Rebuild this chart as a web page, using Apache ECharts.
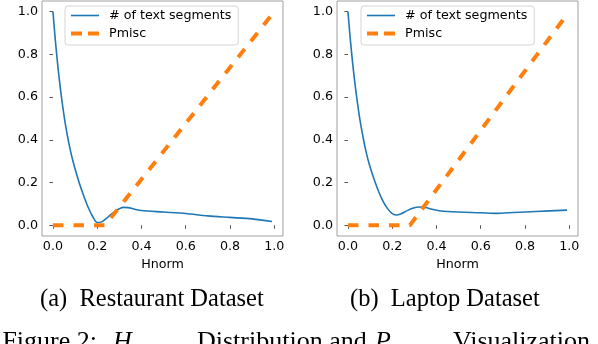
<!DOCTYPE html>
<html>
<head>
<meta charset="utf-8">
<script src="https://cdn.jsdelivr.net/npm/echarts@6/dist/echarts.min.js"></script>
<style>
html,body{margin:0;padding:0;background:#fff;}
#chart{width:598px;height:344px;}
</style>
</head>
<body>
<div id="chart"></div>
<script>
// ---- data ----
const tickValues = [0, 0.2, 0.4, 0.6, 0.8, 1.0];
const seriesNames = ['# of text segments', 'Pmisc'];

const restaurantX = [0, 0.01, 0.02, 0.03, 0.04, 0.05, 0.06, 0.07, 0.08, 0.09, 0.10, 0.12, 0.14, 0.16, 0.18, 0.20, 0.22, 0.25, 0.28, 0.30, 0.32, 0.34, 0.37, 0.40, 0.50, 0.60, 0.70, 0.80, 0.90, 0.99];
const restaurantSegments = [1.0, 0.875, 0.766, 0.671, 0.587, 0.514, 0.450, 0.394, 0.345, 0.302, 0.264, 0.195, 0.135, 0.082, 0.040, 0.013, 0.016, 0.040, 0.065, 0.078, 0.084, 0.083, 0.075, 0.069, 0.062, 0.055, 0.044, 0.037, 0.030, 0.018];
const restaurantPmiscX = [0, 0.235, 0.99];
const restaurantPmiscY = [0, 0, 0.987];

const laptopX = [0, 0.01, 0.02, 0.03, 0.04, 0.05, 0.06, 0.07, 0.08, 0.09, 0.10, 0.12, 0.14, 0.16, 0.18, 0.20, 0.22, 0.24, 0.27, 0.30, 0.32, 0.35, 0.38, 0.42, 0.50, 0.60, 0.67, 0.75, 0.85, 0.99];
const laptopSegments = [1.0, 0.878, 0.771, 0.677, 0.595, 0.522, 0.458, 0.403, 0.353, 0.310, 0.273, 0.210, 0.155, 0.110, 0.077, 0.055, 0.048, 0.054, 0.070, 0.082, 0.086, 0.083, 0.075, 0.067, 0.062, 0.059, 0.056, 0.060, 0.065, 0.071];
const laptopPmiscX = [0, 0.28, 0.99];
const laptopPmiscY = [0, 0, 0.987];

const subCaptions = ['(a)  Restaurant Dataset', '(b)  Laptop Dataset'];
const axisName = 'Hnorm';

// ---- build ----
const zip = (xs, ys) => xs.map((x, i) => [x, ys[i]]);
const BLUE = '#1f77b4', ORANGE = '#ff7f0e';
const FONT = 'DejaVu Sans';
const FS = 12.7;

function xAxisFor(i) {
  return {
    type: 'value', gridIndex: i, min: -0.0495, max: 1.0395,
    name: axisName, nameLocation: 'middle', nameGap: 16,
    nameTextStyle: {fontFamily: FONT, fontSize: FS, color: '#000'},
    axisLine: {show: false},
    splitLine: {show: false},
    axisTick: {show: true, length: 3.5, lineStyle: {color: '#555'}, customValues: tickValues},
    axisLabel: {fontFamily: FONT, fontSize: FS, color: '#000', margin: 4,
      customValues: tickValues, formatter: v => v.toFixed(1)}
  };
}
function yAxisFor(i) {
  return {
    type: 'value', gridIndex: i, min: -0.05, max: 1.05,
    axisLine: {show: false},
    splitLine: {show: false},
    axisTick: {show: true, length: 3.5, lineStyle: {color: '#555'}, customValues: tickValues},
    axisLabel: {fontFamily: FONT, fontSize: FS, color: '#000', margin: 4,
      customValues: tickValues, formatter: v => v.toFixed(1)}
  };
}
function segSeries(i, data) {
  return {name: seriesNames[0], type: 'line', xAxisIndex: i, yAxisIndex: i, data,
    symbol: 'none', smooth: 0.3,
    lineStyle: {color: BLUE, width: 1.6}, itemStyle: {color: BLUE}, z: 3};
}
function pmSeries(i, data) {
  return {name: seriesNames[1], type: 'line', xAxisIndex: i, yAxisIndex: i, data,
    symbol: 'none',
    lineStyle: {color: ORANGE, width: 4, type: [10.5, 10], cap: 'butt'}, itemStyle: {color: ORANGE}, z: 4};
}
function legendAt(left) {
  return {
    orient: 'vertical', left, top: 6,
    data: [
      {name: seriesNames[0], lineStyle: {color: BLUE, width: 1.6, type: 'solid'}},
      {name: seriesNames[1], lineStyle: {color: ORANGE, width: 4, type: [11, 6], cap: 'butt'}}
    ],
    itemWidth: 28, itemHeight: 14, itemGap: 5,
    padding: [3, 7, 5, 4],
    backgroundColor: 'rgba(255,255,255,0.8)', borderColor: '#d5d5d5', borderWidth: 1, borderRadius: 3,
    itemStyle: {color: 'rgba(0,0,0,0)', borderWidth: 0, opacity: 0},
    textStyle: {fontFamily: FONT, fontSize: FS, color: '#000', padding: [0, 0, 0, 5]},
    selectedMode: false
  };
}

const option = {
  animation: false,
  backgroundColor: '#fff',
  grid: [
    {left: 42, top: 1, width: 241, height: 235, show: true, borderColor: '#a0a0a0', borderWidth: 1, backgroundColor: 'transparent'},
    {left: 337, top: 1, width: 241, height: 235, show: true, borderColor: '#a0a0a0', borderWidth: 1, backgroundColor: 'transparent'}
  ],
  xAxis: [xAxisFor(0), xAxisFor(1)],
  yAxis: [yAxisFor(0), yAxisFor(1)],
  legend: [legendAt(65), legendAt(361)],
  series: [
    segSeries(0, zip(restaurantX, restaurantSegments)),
    pmSeries(0, zip(restaurantPmiscX, restaurantPmiscY)),
    segSeries(1, zip(laptopX, laptopSegments)),
    pmSeries(1, zip(laptopPmiscX, laptopPmiscY))
  ],
  graphic: [
    {type: 'text', left: 40, top: 287, style: {text: subCaptions[0], font: '24.5px "Liberation Serif"', fill: '#000'}},
    {type: 'text', left: 350, top: 287, style: {text: subCaptions[1], font: '24.5px "Liberation Serif"', fill: '#000'}},
    {type: 'text', x: 97, y: 342, style: {text: 'Figure 2:', font: '26px "Liberation Serif"', fill: '#000', align: 'right', verticalAlign: 'middle'}},
    {type: 'text', x: 113, y: 342, style: {text: 'H', font: 'italic 26px "Liberation Serif"', fill: '#000', verticalAlign: 'middle'}},
    {type: 'text', x: 131, y: 356, style: {text: 'norm', font: 'italic 18px "Liberation Serif"', fill: '#000', verticalAlign: 'middle'}},
    {type: 'text', x: 197, y: 342, style: {text: 'Distribution and', font: '26px "Liberation Serif"', fill: '#000', verticalAlign: 'middle'}},
    {type: 'text', x: 375, y: 342, style: {text: 'P', font: 'italic 26px "Liberation Serif"', fill: '#000', verticalAlign: 'middle'}},
    {type: 'text', x: 392, y: 356, style: {text: 'misc', font: 'italic 18px "Liberation Serif"', fill: '#000', verticalAlign: 'middle'}},
    {type: 'text', x: 453, y: 342, style: {text: 'Visualization', font: '26px "Liberation Serif"', fill: '#000', verticalAlign: 'middle'}}
  ]
};
const chart = echarts.init(document.getElementById('chart'), null, {renderer: 'canvas'});
chart.setOption(option);
</script>
</body>
</html>
